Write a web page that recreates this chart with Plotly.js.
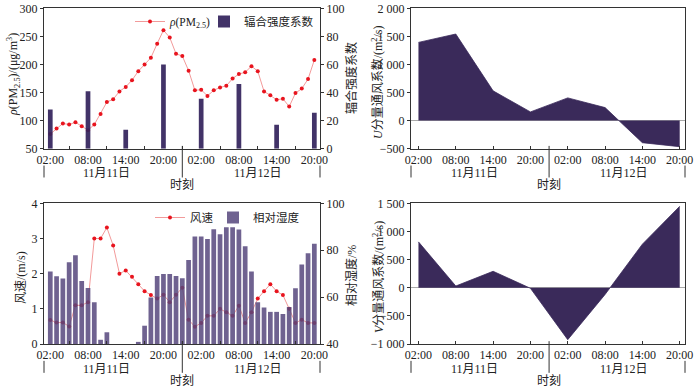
<!DOCTYPE html>
<html><head><meta charset="utf-8">
<script src="https://cdn.plot.ly/plotly-3.0.1.min.js"></script>
<style>html,body{margin:0;padding:0;background:#fff}#chart{width:700px;height:389px}</style>
</head><body><div id="chart"></div>
<script>
// hour offsets from 11月11日 02:00
const hourly = [0,1,2,3,4,5,6,7,8,9,10,11,12,13,14,15,16,17,18,19,20,21,22,23,24,25,26,27,28,29,30,31,32,33,34,35,36,37,38,39,40,41,42];
const sixHourly = [0,6,12,18,24,30,36,42];
const tickLabels = ['02:00','08:00','14:00','20:00','02:00','08:00','14:00','20:00'];
const dayLabels = ['11月11日','11月12日'];
const dayCenters = [9,33];
const dayBreak = 21;

const pm25 = [76,86,95,93,97,90,83,93,112,133,138,152,160,172,188,200,212,237,261,248,219,215,
              189,154,155,144,154,159,162,175,183,186,197,188,152,145,137,139,125,149,157,174,208];
const convergence = [28,41,13.5,60,35.5,46,17,25.6];

const windSpeed = [0.68,0.61,0.61,0.50,1.10,1.10,1.19,3.0,3.0,3.31,2.80,2.0,2.09,1.91,1.70,1.50,1.39,1.29,1.40,1.19,1.40,1.60,
                   0.69,0.49,0.60,0.80,0.80,1.0,0.90,0.80,1.09,0.60,0.90,1.29,1.50,1.70,1.50,1.39,1.0,0.60,0.69,0.60,0.60];
const humidity = [70.9,68.9,67.9,74.9,77.8,66.9,63.9,57.8,41.8,45.0,null,null,null,null,40.9,47.8,59.8,69.0,69.9,69.9,69.0,68.0,
                  75.8,85.8,85.8,84.8,88.9,86.8,89.8,89.8,88.8,81.7,70.9,57.8,55.6,53.7,53.7,52.8,55.8,63.8,73.9,78.7,82.8];

const uVent = [1393,1542,530,155,405,232,-393,-464];
const vVent = [815,30,292,-10,-923,-120,774,1446];

const FONT = 'Liberation Serif, Noto Sans CJK SC, serif';
const AX = '#333';
const dark = '#3a2a5a';

const W = 700, H = 389;
const dom = {
  lx: [44/W, 320/W], rx: [411/W, 685/W],
  ty: [1-148.7/H, 1-8.3/H], by: [1-344/H, 1-203.3/H]
};

const traces = [
  {x: hourly, y: pm25, type:'scatter', mode:'lines+markers', name:'<i>ρ</i>(PM<sub>2.5</sub>)',
   xaxis:'x', yaxis:'y', line:{color:'#f29a9a', width:1}, marker:{color:'#e8141e', size:4}, legend:'legend'},
  {x: sixHourly, y: convergence, type:'bar', name:'辐合强度系数', xaxis:'x', yaxis:'y2', width:0.75,
   marker:{color:'rgba(52,36,92,0.93)'}, legend:'legend2'},
  {x: sixHourly, y: uVent, type:'scatter', mode:'lines', fill:'tozeroy', xaxis:'x2', yaxis:'y3',
   line:{color:dark, width:0.8}, fillcolor:dark, showlegend:false},
  {x: hourly, y: windSpeed, type:'scatter', mode:'lines+markers', name:'风速', xaxis:'x3', yaxis:'y4',
   line:{color:'#f29a9a', width:1}, marker:{color:'#e8141e', size:4}, legend:'legend3'},
  {x: hourly, y: humidity, type:'bar', name:'相对湿度', xaxis:'x3', yaxis:'y5', width:0.75,
   marker:{color:'rgba(86,70,124,0.85)'}, legend:'legend4'},
  {x: sixHourly, y: vVent, type:'scatter', mode:'lines', fill:'tozeroy', xaxis:'x4', yaxis:'y6',
   line:{color:dark, width:0.8}, fillcolor:dark, showlegend:false}
];

const tf = {family: FONT, size: 12, color: '#222'};
function xax(domain, anchor, left) {
  const a = {domain, anchor, range: left ? [-1, 42.9] : [-1.2, 42.85], showline:true, linecolor:AX, linewidth:1,
    mirror:true, showgrid:false, zeroline:false, tickvals: sixHourly, ticktext: tickLabels,
    tickfont: tf, ticks: left ? '' : 'inside', ticklen:3, tickcolor:AX};
  if (left) a.minor = {tickvals:[3,9,15,21,27,33,39], ticks:'inside', ticklen:3, tickcolor:AX, showgrid:false};
  return a;
}
function yax(domain, anchor, range, extra) {
  return Object.assign({domain, anchor, range, showline:true, linecolor:AX, linewidth:1, mirror:true,
    showgrid:false, zeroline:false, ticks:'outside', ticklen:3, tickcolor:AX, tickfont: tf}, extra||{});
}
function leg(x, y) {
  return {orientation:'h', x:x/W, y:1-y/H, xanchor:'left', yanchor:'top', bgcolor:'rgba(0,0,0,0)',
    font:{family:FONT, size:11.5, color:'#222'}, itemwidth:30, borderwidth:0};
}

const layout = {
  width: W, height: H, margin:{l:0,r:0,t:0,b:0}, paper_bgcolor:'#fff', plot_bgcolor:'#fff',
  font:{family: FONT, size: 12, color:'#222'}, barmode:'overlay', showlegend:true,
  xaxis: xax(dom.lx, 'y', true),
  xaxis2: xax(dom.rx, 'y3', false),
  xaxis3: xax(dom.lx, 'y4', true),
  xaxis4: xax(dom.rx, 'y6', false),
  yaxis: yax(dom.ty, 'x', [50,300], {dtick:50, mirror:false}),
  yaxis2: yax(dom.ty, 'x', [0,100], {dtick:20, overlaying:'y', side:'right', mirror:false}),
  yaxis3: yax(dom.ty, 'x2', [-500,2000], {tickvals:[-500,0,500,1000,1500,2000],
    ticktext:['−500','0','500','1 000','1 500','2 000'], zeroline:true, zerolinecolor:'#aaa', zerolinewidth:1}),
  yaxis4: yax(dom.by, 'x3', [0,4], {dtick:1, mirror:false}),
  yaxis5: yax(dom.by, 'x3', [40,100], {dtick:20, overlaying:'y4', side:'right', mirror:false}),
  yaxis6: yax(dom.by, 'x4', [-1000,1500], {tickvals:[-1000,-500,0,500,1000,1500],
    ticktext:['−1 000','−500','0','500','1 000','1 500'], zeroline:true, zerolinecolor:'#aaa', zerolinewidth:1}),
  legend: leg(130, 7),
  legend2: leg(204, 7),
  legend3: leg(150, 203),
  legend4: leg(213, 203),
  annotations: [], shapes: []
};

const titles = [
  {text:'<i>ρ</i>(PM<sub>2.5</sub>)/(μg/m<sup>3</sup>)', x:13, y:75},
  {text:'辐合强度系数', x:351, y:78},
  {text:'<i>U</i>分量通风系数/(m<sup>2</sup>/s)', x:378, y:82},
  {text:'风速/(m/s)', x:21, y:278},
  {text:'相对湿度/%', x:351, y:276},
  {text:'<i>V</i>分量通风系数/(m<sup>2</sup>/s)', x:378, y:277}
];
titles.forEach(t => layout.annotations.push({text:t.text, xref:'paper', yref:'paper', x:t.x/W, y:1-t.y/H,
  textangle:-90, showarrow:false, font:{family:FONT, size:12, color:'#222'}, xanchor:'center', yanchor:'middle'}));

[['x','y'],['x2','y3'],['x3','y4'],['x4','y6']].forEach(([xa, ya]) => {
  const yd = ya + ' domain', xd = xa + ' domain';
  dayLabels.forEach((d, i) => layout.annotations.push({text:d, xref:xa, yref:yd, x:dayCenters[i], y:-0.175,
    showarrow:false, font:{family:FONT, size:12, color:'#222'}, yanchor:'middle'}));
  layout.annotations.push({text:'时刻', xref:xa, yref:yd, x:dayBreak, y:-0.262, showarrow:false,
    font:{family:FONT, size:12, color:'#222'}, yanchor:'middle'});
  layout.shapes.push({type:'line', xref:xa, yref:yd, x0:dayBreak, x1:dayBreak, y0:0.02, y1:-0.205, line:{color:AX, width:1}});
  [0,1].forEach(e => layout.shapes.push({type:'line', xref:xd, yref:yd, x0:e, x1:e, y0:-0.12, y1:-0.205, line:{color:AX, width:1}}));
});

Plotly.newPlot('chart', traces, layout, {staticPlot:true});
</script></body></html>
